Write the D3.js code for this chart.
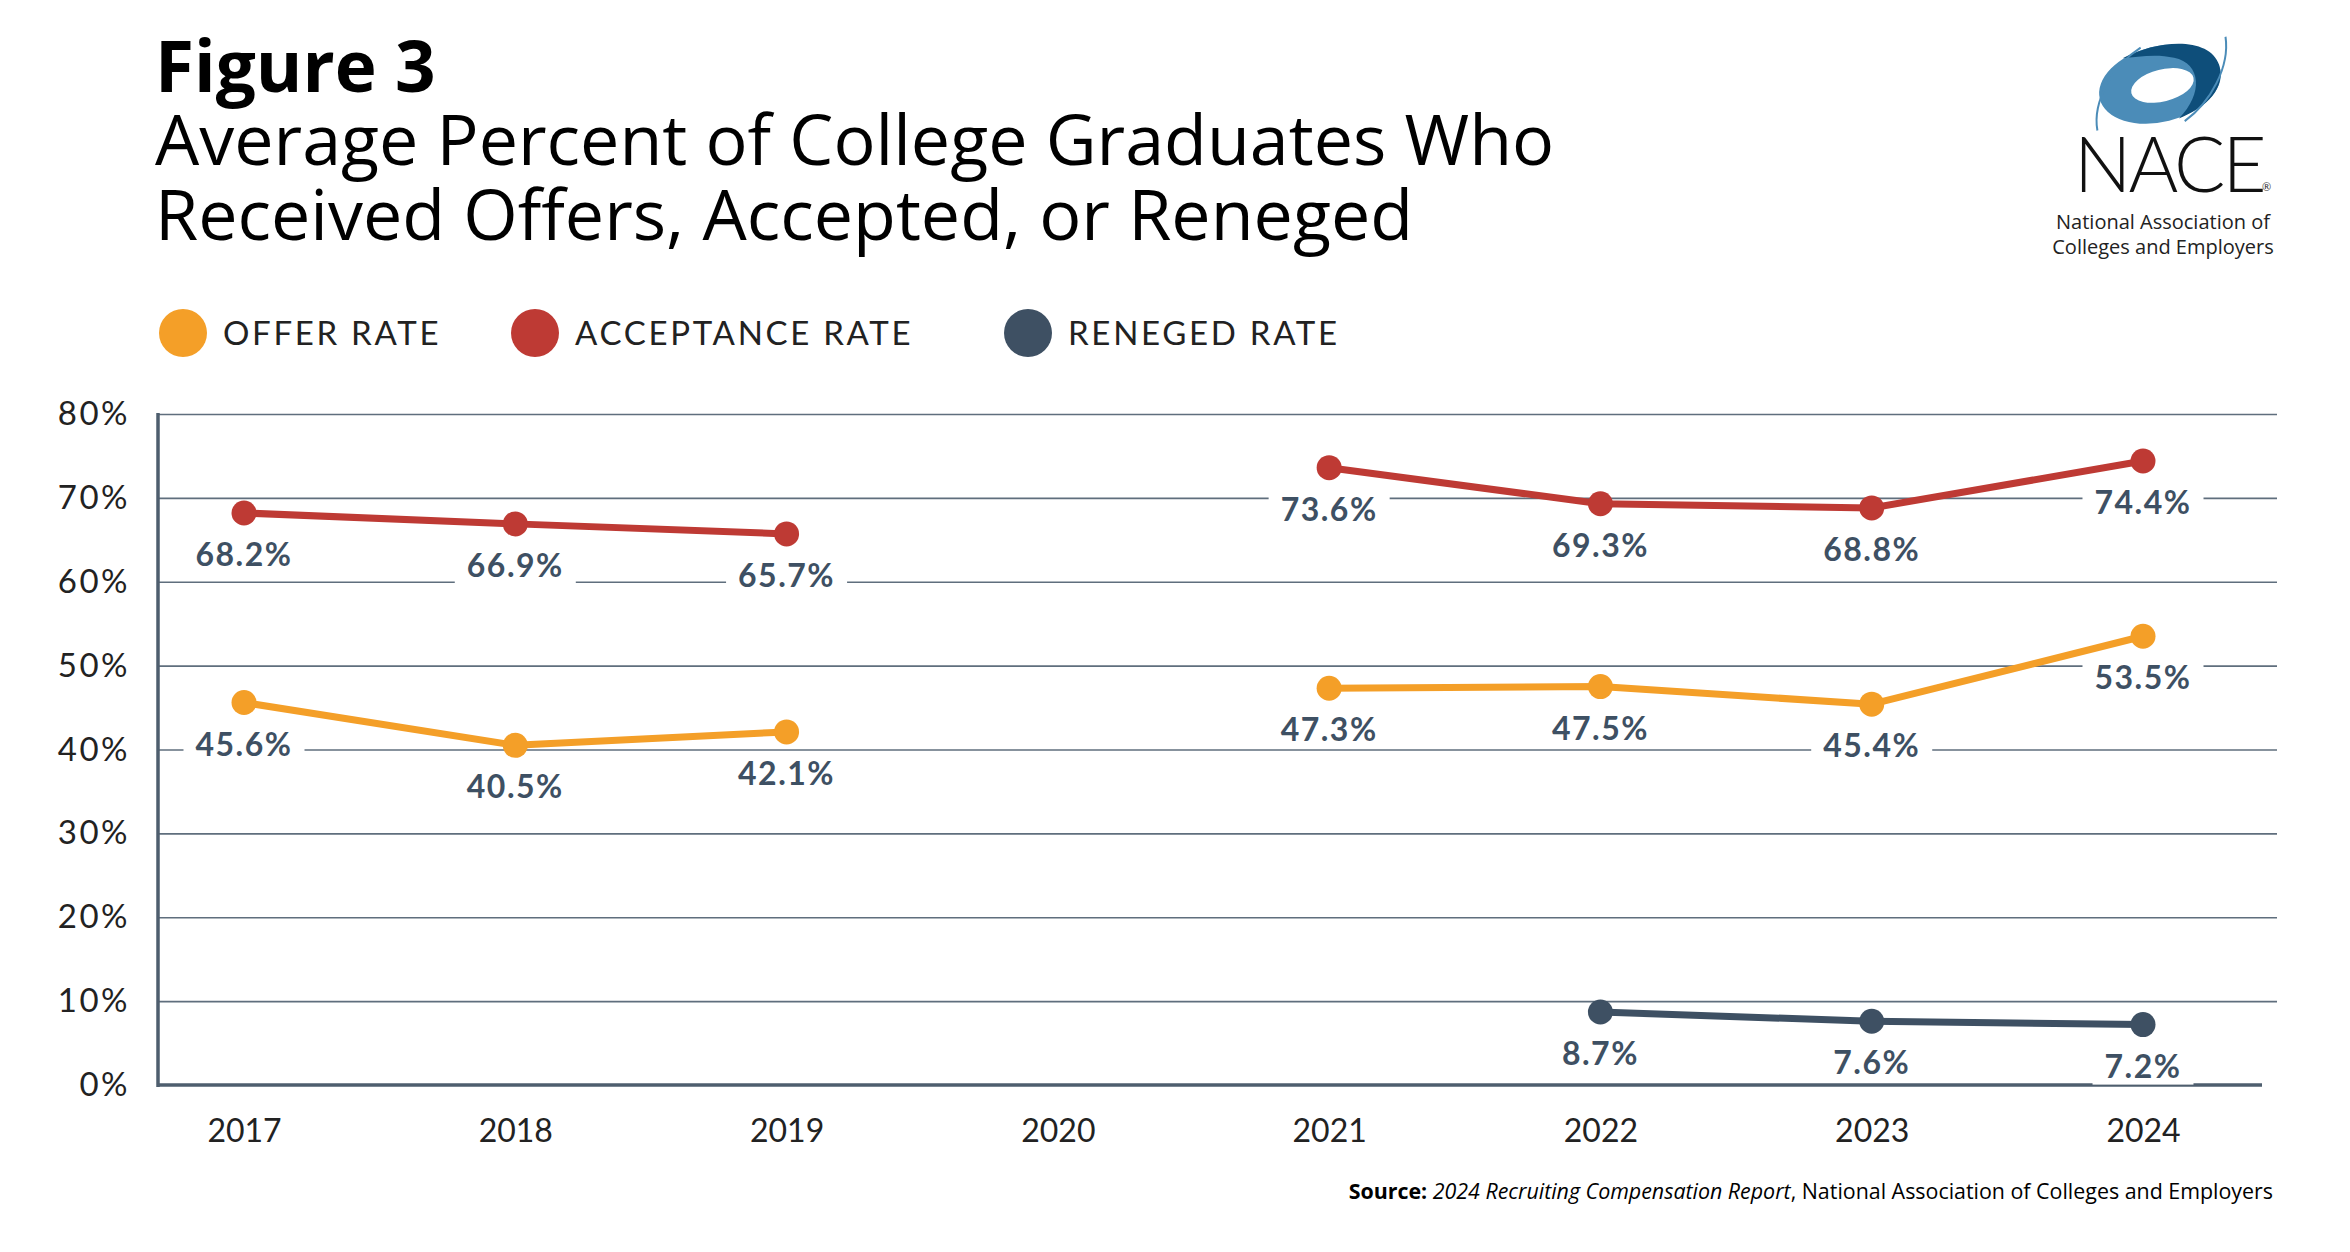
<!DOCTYPE html>
<html>
<head>
<meta charset="utf-8">
<script src="https://cdn.jsdelivr.net/npm/d3@7"></script>
<style>
  html, body { margin: 0; padding: 0; background: #ffffff; }
  svg { display: block; }
</style>
</head>
<body>
<script>
// ---------- DATA ----------
const years = ["2017", "2018", "2019", "2020", "2021", "2022", "2023", "2024"];
const offerRate = [45.6, 40.5, 42.1, null, 47.3, 47.5, 45.4, 53.5];
const acceptanceRate = [68.2, 66.9, 65.7, null, 73.6, 69.3, 68.8, 74.4];
const renegedRate = [null, null, null, null, null, 8.7, 7.6, 7.2];
const yTicks = [0, 10, 20, 30, 40, 50, 60, 70, 80];
const seriesNames = ["OFFER RATE", "ACCEPTANCE RATE", "RENEGED RATE"];
const seriesColors = ["#F49F28", "#BE3A34", "#3E5063"];

const W = 2350, H = 1252;
const svg = d3.select("body").append("svg").attr("width", W).attr("height", H);

// ---------- TITLE ----------
const titleFont = "'Open Sans', 'Noto Sans', sans-serif";
svg.append("text").attr("x", 155).attr("y", 92)
  .style("font-family", titleFont).style("font-weight", 700).style("font-size", "71px")
  .attr("fill", "#000").text("Figure 3");
svg.append("text").attr("x", 155).attr("y", 165)
  .style("font-family", titleFont).style("font-weight", 400).style("font-size", "70px")
  .attr("fill", "#000").text("Average Percent of College Graduates Who");
svg.append("text").attr("x", 155).attr("y", 240)
  .style("font-family", titleFont).style("font-weight", 400).style("font-size", "70px")
  .attr("fill", "#000").text("Received Offers, Accepted, or Reneged");

// ---------- LOGO ----------
const logo = svg.append("g");
const lg = logo.append("g").attr("transform", "translate(2160,84) rotate(-14)");
lg.append("ellipse").attr("rx", 62).attr("ry", 38).attr("fill", "#4B8CB8");
lg.append("path")
  .attr("d", "M -30,-34 C 10,-44 60,-34 62,-4 C 63,20 40,34 10,38 C 40,20 45,-10 20,-22 C 5,-30 -15,-32 -30,-34 Z")
  .attr("fill", "#0E4E7A");
lg.append("ellipse").attr("cx", 2).attr("cy", 2).attr("rx", 32).attr("ry", 16).attr("fill", "#fff");
lg.append("path").attr("d", "M -72,30 C -70,0 -40,-30 -10,-40").attr("fill", "none").attr("stroke", "#4B8CB8").attr("stroke-width", 2);
lg.append("path").attr("d", "M 75,-30 C 72,0 45,30 15,42").attr("fill", "none").attr("stroke", "#4B8CB8").attr("stroke-width", 2);
logo.append("text").attr("x", 2074).attr("y", 192)
  .style("font-family", "Lato, sans-serif").style("font-weight", 300).style("font-size", "76px")
  .style("letter-spacing", "-3px")
  .attr("fill", "#111").text("NACE");
logo.append("text").attr("x", 2262).attr("y", 191)
  .style("font-family", "Lato, sans-serif").style("font-size", "11px").attr("fill", "#333").text("®");
logo.append("text").attr("x", 2163).attr("y", 229).attr("text-anchor", "middle")
  .style("font-family", "'Open Sans', sans-serif").style("font-size", "20px").attr("fill", "#222")
  .text("National Association of");
logo.append("text").attr("x", 2163).attr("y", 254).attr("text-anchor", "middle")
  .style("font-family", "'Open Sans', sans-serif").style("font-size", "20px").attr("fill", "#222")
  .text("Colleges and Employers");

// ---------- LEGEND ----------
const legendX = [183, 535, 1028];
const legend = svg.append("g");
seriesNames.forEach((name, i) => {
  legend.append("circle").attr("cx", legendX[i]).attr("cy", 333).attr("r", 24).attr("fill", seriesColors[i]);
  legend.append("text").attr("x", legendX[i] + 40).attr("y", 345)
    .style("font-family", "Lato, sans-serif").style("font-weight", 400).style("font-size", "33px")
    .style("letter-spacing", "2.7px")
    .attr("fill", "#222").text(name);
});

// ---------- SCALES ----------
const x = d3.scalePoint().domain(years).range([244, 2143]);
const y = d3.scaleLinear().domain([0, 80]).range([1085, 414]);
const axisLeftX = 158, gridRight = 2277, baseRight = 2262;

// gridlines
const grid = svg.append("g").attr("transform", `translate(${axisLeftX},0)`)
  .call(d3.axisLeft(y).tickValues(yTicks.filter(t => t > 0)).tickSize(-(gridRight - axisLeftX)).tickFormat(""));
grid.select(".domain").remove();
grid.selectAll(".tick line").attr("stroke", "#5F6E7D").attr("stroke-width", 1.6);

// y tick labels
const yAxis = svg.append("g").attr("transform", `translate(${axisLeftX},0)`)
  .call(d3.axisLeft(y).tickValues(yTicks).tickSize(0).tickPadding(28).tickFormat(d => d + "%"));
yAxis.select(".domain").remove();
yAxis.selectAll("text").style("font-family", "Lato, sans-serif").style("font-size", "33px")
  .style("letter-spacing", "2.5px").attr("fill", "#222");

// x axis
const xAxis = svg.append("g").attr("transform", `translate(0,${y(0)})`)
  .call(d3.axisBottom(x).tickSize(0).tickPadding(34));
xAxis.select(".domain").remove();
xAxis.selectAll("text").style("font-family", "Lato, sans-serif").style("font-size", "32px")
  .attr("fill", "#222");

// axis lines
svg.append("line").attr("x1", axisLeftX).attr("x2", axisLeftX).attr("y1", y(80) - 1).attr("y2", y(0) + 2)
  .attr("stroke", "#4E5E6E").attr("stroke-width", 3.5);
svg.append("line").attr("x1", axisLeftX).attr("x2", baseRight).attr("y1", y(0)).attr("y2", y(0))
  .attr("stroke", "#4E5E6E").attr("stroke-width", 3.5);

// ---------- SERIES ----------
const allSeries = [offerRate, acceptanceRate, renegedRate];
const line = d3.line()
  .defined(d => d.v != null)
  .x(d => x(d.year)).y(d => y(d.v));

const labelLayer = svg.append("g");
allSeries.forEach((vals, i) => {
  const pts = years.map((yr, k) => ({ year: yr, v: vals[k] }));
  svg.append("path").datum(pts).attr("d", line)
    .attr("fill", "none").attr("stroke", seriesColors[i]).attr("stroke-width", 7)
    .attr("stroke-linejoin", "round");
  svg.selectAll(null).data(pts.filter(d => d.v != null)).enter().append("circle")
    .attr("cx", d => x(d.year)).attr("cy", d => y(d.v)).attr("r", 12.5)
    .attr("fill", seriesColors[i]);
  pts.filter(d => d.v != null).forEach(d => {
    const g = labelLayer.append("g");
    const t = g.append("text")
      .attr("x", x(d.year)).attr("y", y(d.v) + 53)
      .attr("text-anchor", "middle")
      .style("font-family", "Lato, sans-serif").style("font-weight", 700).style("font-size", "32px")
      .style("letter-spacing", "1.5px")
      .attr("fill", "#3E5063").text(d.v.toFixed(1) + "%");
    const bb = t.node().getBBox();
    g.insert("rect", "text").attr("x", bb.x - 12).attr("y", bb.y).attr("width", bb.width + 24)
      .attr("height", bb.height).attr("fill", "#fff");
  });
});

// ---------- SOURCE ----------
const src = svg.append("text").attr("x", 2273).attr("y", 1199).attr("text-anchor", "end")
  .style("font-family", "'Open Sans', sans-serif").style("font-size", "21.4px").attr("fill", "#000");
src.append("tspan").style("font-weight", 700).text("Source: ");
src.append("tspan").style("font-style", "italic").text("2024 Recruiting Compensation Report");
src.append("tspan").text(", National Association of Colleges and Employers");
</script>
</body>
</html>
